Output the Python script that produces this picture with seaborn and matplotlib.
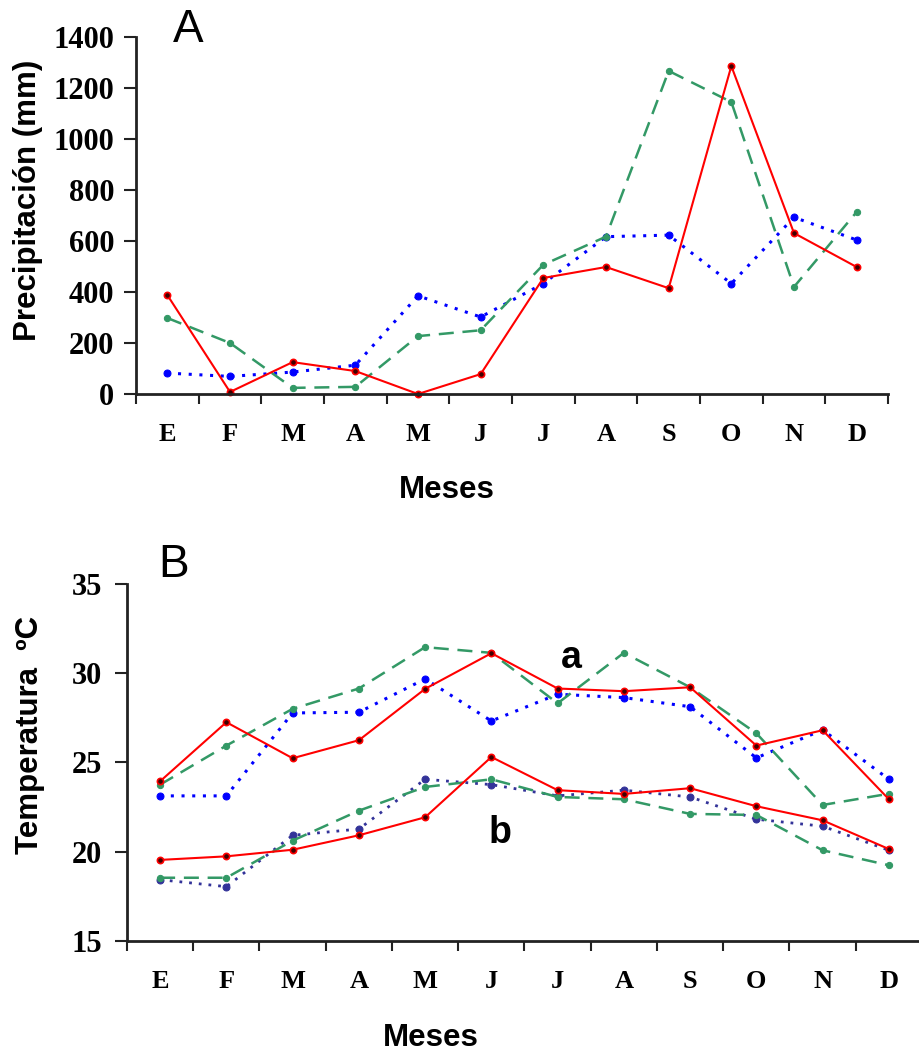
import numpy as np
import pandas as pd
import matplotlib
matplotlib.use("Agg")
import matplotlib.pyplot as plt
import seaborn as sns

# month labels (Spanish initials)
meses = ["E", "F", "M", "A", "M", "J", "J", "A", "S", "O", "N", "D"]

# panel A: precipitation (mm)
prec_red = [388, 8, 125, 90, 0, 78, 455, 498, 415, 1286, 631, 498]
prec_green = [298, 200, 24, 28, 227, 250, 507, 617, 1267, 1145, 420, 714]
prec_blue = [82, 69, 86, 113, 385, 302, 433, 617, 623, 433, 693, 604]

# panel B: temperature (max group "a", min group "b")
tmax_red = [23.94, 27.25, 25.23, 26.24, 29.12, 31.12, 29.14, 28.99, 29.21, 25.94, 26.80, 22.93]
tmax_green = [23.75, 25.94, 28.0, 29.14, 31.46, 31.14, 28.31, 31.14, 29.21, 26.63, 22.61, 23.24]
tmax_blue = [23.12, 23.12, 27.77, 27.81, 29.68, 27.32, 28.82, 28.63, 28.12, 25.25, 26.82, 24.05]
tmin_red = [19.53, 19.73, 20.10, 20.91, 21.92, 25.30, 23.44, 23.23, 23.55, 22.54, 21.75, 20.14]
tmin_green = [18.53, 18.53, 20.61, 22.29, 23.62, 24.05, 23.06, 22.93, 22.11, 22.05, 20.07, 19.23]
tmin_blue = [18.42, 18.03, 20.91, 21.26, 24.05, 23.75, 23.12, 23.44, 23.06, 21.81, 21.42, 20.07]

RED = "#ff0000"
GREEN = "#339966"
BLUE = "#0000ff"
NAVY = "#333399"

sns.set_theme(style="white")
plt.rcParams["font.family"] = ["Liberation Sans", "DejaVu Sans"]
plt.rcParams["text.color"] = "black"
plt.rcParams["axes.labelcolor"] = "black"
plt.rcParams["xtick.color"] = "black"
plt.rcParams["ytick.color"] = "black"

x = np.arange(12)

styles = {
    "red": dict(color=RED, linestyle="-", linewidth=1.5, marker="o", markersize=4.5,
                markerfacecolor="#400000", markeredgecolor=RED, markeredgewidth=1.2),
    "green": dict(color=GREEN, linestyle=(0, (6, 3.5)), linewidth=1.8, marker="o",
                  markersize=4.5, markeredgecolor=GREEN),
    "blue": dict(color=BLUE, linestyle=(0, (1, 2.5)), linewidth=2.2, marker="o",
                 markersize=5, markeredgecolor=BLUE),
    "navy": dict(color=NAVY, linestyle=(0, (1, 2.5)), linewidth=2.0, marker="o",
                 markersize=5, markeredgecolor=NAVY),
}

fig = plt.figure(figsize=(9.2, 10.52), dpi=100)
axA = fig.add_axes([136 / 920, 1 - 394 / 1052, (888 - 136) / 920, (394 - 37) / 1052])
axB = fig.add_axes([127 / 920, 1 - 940.7 / 1052, (922 - 127) / 920, (940.7 - 584) / 1052])


def draw(ax, y, key):
    sns.lineplot(x=x, y=y, ax=ax, estimator=None, sort=False, clip_on=False, **styles[key])


draw(axA, prec_blue, "blue")
draw(axA, prec_green, "green")
draw(axA, prec_red, "red")

draw(axB, tmax_blue, "blue")
draw(axB, tmax_green, "green")
draw(axB, tmax_red, "red")
draw(axB, tmin_blue, "navy")
draw(axB, tmin_green, "green")
draw(axB, tmin_red, "red")


def style_axes(ax, ylim, yticks, ypad):
    ax.set_xlim(-0.5, 11.5)
    ax.set_ylim(*ylim)
    ax.set_yticks(yticks)
    ax.set_yticklabels([str(v) for v in yticks], family="Liberation Serif",
                       weight="bold", fontsize=22)
    ax.set_xticks(x)
    ax.set_xticklabels(meses, family="Liberation Serif", weight="bold", fontsize=19)
    ax.set_xticks(np.arange(-0.5, 12, 1), minor=True)
    ax.tick_params(axis="x", which="major", length=0, pad=21)
    ax.tick_params(axis="x", which="minor", length=7, width=1.5, color="#222222",
                   direction="out", bottom=True)
    ax.tick_params(axis="y", which="major", length=9, width=1.5, color="#222222",
                   direction="out", left=True, pad=ypad)
    for s in ["top", "right"]:
        ax.spines[s].set_visible(False)
    for s in ["left", "bottom"]:
        ax.spines[s].set_color("#222222")
        ax.spines[s].set_linewidth(2)
    ax.set_facecolor("white")


style_axes(axA, (0, 1400), list(range(0, 1401, 200)), 6.7)
style_axes(axB, (15, 35), [15, 20, 25, 30, 35], 8.8)

axA.set_ylabel("Precipitación (mm)", fontsize=22.5, weight="bold")
axA.yaxis.set_label_coords(-0.1436, 0.543)
axA.set_xlabel("Meses", fontsize=22.5, weight="bold")
axA.xaxis.set_label_coords(0.4136, -0.269)

axB.set_ylabel("Temperatura  ºC", fontsize=22.5, weight="bold")
axB.yaxis.set_label_coords(-0.122, 0.577)
axB.set_xlabel("Meses", fontsize=22.5, weight="bold")
axB.xaxis.set_label_coords(0.382, -0.273)
for ax in (axA, axB):
    ax.xaxis.label.set_va("center")
    ax.yaxis.label.set_va("center")

axA.text(0.33, 1427, "A", fontsize=33, ha="center", va="center", clip_on=False)
axB.text(0.21, 36.07, "B", fontsize=33, ha="center", va="center", clip_on=False)
axB.text(6.2, 30.86, "a", fontsize=27, weight="bold", ha="center", va="center")
axB.text(5.13, 21.04, "b", fontsize=27, weight="bold", ha="center", va="center")

fig.savefig("out.png", dpi=100, facecolor="white")
